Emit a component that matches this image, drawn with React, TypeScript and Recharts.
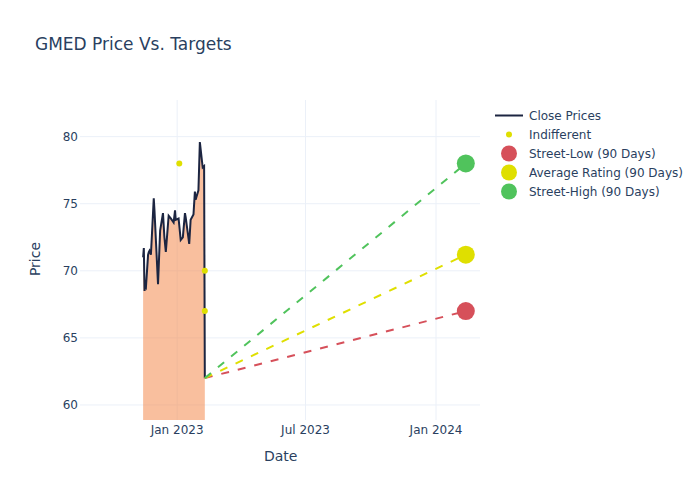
import React from "react";
import { ComposedChart, Area, Line, Scatter, XAxis, YAxis, CartesianGrid } from "recharts";

const priceDates = [
  "2022-11-14", "2022-11-15", "2022-11-16", "2022-11-17", "2022-11-18", "2022-11-21",
  "2022-11-22", "2022-11-23", "2022-11-25", "2022-11-29", "2022-11-30", "2022-12-05",
  "2022-12-08", "2022-12-12", "2022-12-14", "2022-12-16", "2022-12-20", "2022-12-23",
  "2022-12-27", "2022-12-29", "2022-12-30", "2023-01-03", "2023-01-06", "2023-01-09",
  "2023-01-12", "2023-01-13", "2023-01-18", "2023-01-20", "2023-01-24", "2023-01-26",
  "2023-01-27", "2023-01-31", "2023-02-02", "2023-02-06", "2023-02-08", "2023-02-09",
];
const closePrices = [
  71.0, 71.7, 68.5, 68.9, 68.8, 71.2,
  71.4, 71.5, 71.2, 75.4, 74.5, 69.0,
  73.0, 74.3, 72.5, 71.4, 74.1, 73.9,
  73.6, 74.5, 73.8, 73.9, 72.3, 72.5,
  74.3, 74.0, 72.0, 73.8, 74.2, 75.9,
  75.3, 76.0, 79.6, 77.7, 77.8, 62.0,
];

const indifferentDates = ["2023-01-04", "2023-02-09", "2023-02-09"];
const indifferentPrices = [78.0, 70.0, 67.0];

const targetStartDate = "2023-02-09";
const targetStartPrice = 62.0;
const targetDate = "2024-02-12";
const streetLow = 67.0;
const averageRating = 71.2;
const streetHigh = 78.0;

const xTickDates = ["2023-01-01", "2023-07-01", "2024-01-01"];
const xTickLabels = ["Jan 2023", "Jul 2023", "Jan 2024"];
const yTicks = [60, 65, 70, 75, 80];

const ts = (d: string) => Date.parse(d + "T00:00:00Z");

const priceData = priceDates.map((d, i) => ({ x: ts(d), y: closePrices[i] }));
const indifferentData = indifferentDates.map((d, i) => ({ x: ts(d), y: indifferentPrices[i] }));
const targetLine = (v: number) => [
  { x: ts(targetStartDate), y: targetStartPrice },
  { x: ts(targetDate), y: v },
];

const RED = "#d6505a";
const YELLOW = "#dfdf00";
const GREEN = "#50c35c";
const TEXT = "#2a3f5f";
const GRID = "#ebf0f8";
const FONT = "'DejaVu Sans', Verdana, sans-serif";

const dot = (r: number, color: string) => (props: any) =>
  <circle cx={props.cx} cy={props.cy} r={r} fill={color} />;

const legendItems = [
  { label: "Close Prices", kind: "line", color: "#1c2541" },
  { label: "Indifferent", kind: "small", color: YELLOW },
  { label: "Street-Low (90 Days)", kind: "big", color: RED },
  { label: "Average Rating (90 Days)", kind: "big", color: YELLOW },
  { label: "Street-High (90 Days)", kind: "big", color: GREEN },
];

export default function App() {
  const tickMap: Record<number, string> = {};
  xTickDates.forEach((d, i) => (tickMap[ts(d)] = xTickLabels[i]));

  return (
    <div style={{ position: "absolute", left: 0, top: 0, width: 700, height: 500, background: "#fff", fontFamily: FONT, color: TEXT }}>
      <div style={{ position: "absolute", left: 35, top: 34, fontSize: 17, whiteSpace: "nowrap" }}>GMED Price Vs. Targets</div>
      <ComposedChart width={700} height={500} margin={{ top: 100, right: 220, bottom: 50, left: 0 }}>
        <CartesianGrid stroke={GRID} syncWithTicks />
        <XAxis
          dataKey="x"
          type="number"
          height={30}
          domain={[ts("2022-08-17"), ts("2024-03-03")]}
          allowDataOverflow
          ticks={xTickDates.map(ts)}
          tickFormatter={(v: number) => tickMap[v] || ""}
          axisLine={false}
          tickLine={false}
          tickSize={0}
          tickMargin={5}
          tick={{ fill: TEXT, fontSize: 12, fontFamily: FONT }}
        />
        <YAxis
          dataKey="y"
          type="number"
          width={80}
          domain={[58.88, 82.73]}
          allowDataOverflow
          ticks={yTicks}
          axisLine={false}
          tickLine={false}
          tickSize={0}
          tickMargin={2}
          tick={{ fill: TEXT, fontSize: 12, fontFamily: FONT }}
        />
        <Area
          data={priceData}
          dataKey="y"
          type="linear"
          stroke="#1c2541"
          strokeWidth={2}
          fill="#f48a4f"
          fillOpacity={0.55}
          dot={false}
          activeDot={false}
          isAnimationActive={false}
        />
        <Line data={targetLine(streetLow)} dataKey="y" type="linear" stroke={RED} strokeWidth={2} strokeDasharray="8 9" dot={false} activeDot={false} isAnimationActive={false} />
        <Line data={targetLine(averageRating)} dataKey="y" type="linear" stroke={YELLOW} strokeWidth={2} strokeDasharray="8 9" dot={false} activeDot={false} isAnimationActive={false} />
        <Line data={targetLine(streetHigh)} dataKey="y" type="linear" stroke={GREEN} strokeWidth={2} strokeDasharray="8 9" dot={false} activeDot={false} isAnimationActive={false} />
        <Scatter data={indifferentData} dataKey="y" shape={dot(3, YELLOW)} isAnimationActive={false} />
        <Scatter data={[{ x: ts(targetDate), y: streetLow }]} dataKey="y" shape={dot(9, RED)} isAnimationActive={false} />
        <Scatter data={[{ x: ts(targetDate), y: averageRating }]} dataKey="y" shape={dot(9, YELLOW)} isAnimationActive={false} />
        <Scatter data={[{ x: ts(targetDate), y: streetHigh }]} dataKey="y" shape={dot(9, GREEN)} isAnimationActive={false} />
      </ComposedChart>
      <div style={{ position: "absolute", left: 264, top: 448, fontSize: 14 }}>Date</div>
      <div style={{ position: "absolute", left: 35, top: 259, fontSize: 14, transform: "translate(-50%, -50%) rotate(-90deg)" }}>Price</div>
      <div style={{ position: "absolute", left: 494, top: 106, fontSize: 12 }}>
        {legendItems.map((it) => (
          <div key={it.label} style={{ display: "flex", alignItems: "center", height: 19, whiteSpace: "nowrap" }}>
            <svg width={30} height={19} style={{ marginRight: 5 }}>
              {it.kind === "line" && <line x1={1} x2={29} y1={9.5} y2={9.5} stroke={it.color} strokeWidth={2} />}
              {it.kind === "small" && <circle cx={15} cy={9.5} r={3} fill={it.color} />}
              {it.kind === "big" && <circle cx={15} cy={9.5} r={8} fill={it.color} />}
            </svg>
            <span>{it.label}</span>
          </div>
        ))}
      </div>
    </div>
  );
}
